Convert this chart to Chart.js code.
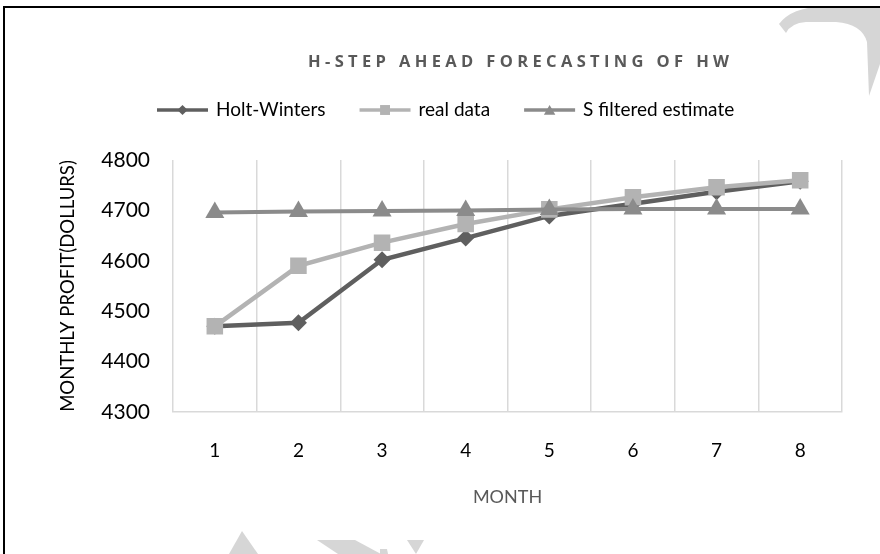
<!DOCTYPE html>
<html>
<head>
<meta charset="utf-8">
<script src="https://cdn.jsdelivr.net/npm/chart.js@4.4.1/dist/chart.umd.min.js"></script>
<style>
  html, body { margin: 0; padding: 0; background: #fff; overflow: hidden; }
  #wrap { position: relative; width: 880px; height: 554px; }
  #deco { position: absolute; left: 0; top: 0; }
  #chart { position: absolute; left: 0; top: 0; }
</style>
</head>
<body>
<div id="wrap">
  <svg id="deco" width="880" height="554" viewBox="0 0 880 554">
    <!-- faint background lettering -->
    <g fill="#d6d6d6">
      <path d="M 779 24 Q 792 7 822 7 L 880 7 L 880 64 L 869 96 L 867 42 Q 862 24 836 22 L 806 22 Q 791 23 786 33 Z"/>
      <path d="M 229 554 L 242 531 L 258 554 Z"/>
      <path d="M 317 540 L 355 540 L 381 554 L 338 554 Z"/>
      <path d="M 380 549 L 387 549 L 388 554 L 380 554 Z"/>
      <path d="M 407 540 L 424 540 L 416 554 Z"/>
    </g>
    <!-- frame -->
    <path d="M 4 554 L 4 7 L 880 7" fill="none" stroke="#000" stroke-width="2"/>
  </svg>
  <canvas id="chart" width="880" height="554"></canvas>
</div>
<script>
// Monthly profit forecasts, months 1-8
const months = ['1', '2', '3', '4', '5', '6', '7', '8'];
const holtWinters = [4470, 4477, 4602, 4645, 4689, 4713, 4737, 4758];
const realData = [4470, 4590, 4636, 4673, 4702, 4726, 4746, 4760];
const sFiltered = [4696, 4698, 4699, 4700, 4702, 4703, 4703, 4703];
const yMin = 4300, yMax = 4800, yStep = 100;

const seriesNames = ['Holt-Winters', 'real data', 'S filtered estimate'];
const seriesColors = ['#5f5f5f', '#b3b3b3', '#8b8b8b'];
const chartTitle = 'H-STEP AHEAD FORECASTING OF HW';

const FONT = 'Lato, "Open Sans", "DejaVu Sans", sans-serif';
const TITLE_FONT = 'bold 16.5px "Open Sans", Lato, sans-serif';
const TITLE_WIDTH = 421;

function markerPath(ctx, style, x, y, r) {
  ctx.beginPath();
  if (style === 'rectRot') {
    ctx.moveTo(x - r, y); ctx.lineTo(x, y - r); ctx.lineTo(x + r, y); ctx.lineTo(x, y + r);
  } else if (style === 'rect') {
    const s = r * Math.SQRT1_2;
    ctx.rect(x - s, y - s, 2 * s, 2 * s);
  } else {
    for (let i = 0; i < 3; i++) {
      const a = i * 2 * Math.PI / 3;
      const px = x + Math.sin(a) * r, py = y - Math.cos(a) * r;
      if (i === 0) ctx.moveTo(px, py); else ctx.lineTo(px, py);
    }
  }
  ctx.closePath();
}

// Title and line+marker legend drawn above the plot
const headerPlugin = {
  id: 'header',
  afterDraw(chart) {
    const ctx = chart.ctx;
    const area = chart.chartArea;
    ctx.save();
    ctx.font = TITLE_FONT;
    ctx.fillStyle = '#595959';
    ctx.textBaseline = 'middle';
    ctx.textAlign = 'left';
    if ('letterSpacing' in ctx) {
      const plain = ctx.measureText(chartTitle).width;
      const gap = Math.max(0, (TITLE_WIDTH - plain) / (chartTitle.length - 1));
      ctx.letterSpacing = gap.toFixed(2) + 'px';
    }
    ctx.fillText(chartTitle, area.left + 135, 62);
    if ('letterSpacing' in ctx) ctx.letterSpacing = '0px';

    ctx.font = '19px ' + FONT;
    let x = area.left - 16;
    const y = 110;
    chart.data.datasets.forEach((ds) => {
      ctx.strokeStyle = ds.borderColor;
      ctx.lineWidth = 3.5;
      ctx.beginPath();
      ctx.moveTo(x, y); ctx.lineTo(x + 51, y);
      ctx.stroke();
      ctx.fillStyle = ds.borderColor;
      markerPath(ctx, ds.pointStyle, x + 25.5, y + (ds.pointStyle === 'triangle' ? 1.5 : 0), ds.pointRadius * 0.6);
      ctx.fill();
      ctx.fillStyle = '#000';
      ctx.fillText(ds.label, x + 59, y);
      x += 59 + ctx.measureText(ds.label).width + 34;
    });
    ctx.restore();
  }
};

function build() {
  Chart.defaults.font.family = FONT;
  new Chart(document.getElementById('chart'), {
    type: 'line',
    data: {
      labels: months,
      datasets: [
        { label: seriesNames[0], data: holtWinters, borderColor: seriesColors[0], backgroundColor: seriesColors[0],
          borderWidth: 4.5, pointStyle: 'rectRot', pointRadius: 8.5, pointBorderWidth: 0, order: 3 },
        { label: seriesNames[1], data: realData, borderColor: seriesColors[1], backgroundColor: seriesColors[1],
          borderWidth: 4.5, pointStyle: 'rect', pointRadius: 11.7, pointBorderWidth: 0, order: 2 },
        { label: seriesNames[2], data: sFiltered, borderColor: seriesColors[2], backgroundColor: seriesColors[2],
          borderWidth: 4, pointStyle: 'triangle', pointRadius: 11, pointBorderWidth: 0, order: 1 }
      ]
    },
    options: {
      responsive: false,
      animation: false,
      devicePixelRatio: 1,
      layout: { padding: { left: 57, right: 38, top: 160, bottom: 0 } },
      plugins: {
        legend: { display: false },
        title: { display: false },
        tooltip: { enabled: false }
      },
      scales: {
        x: {
          type: 'category',
          offset: true,
          grid: { offset: true, color: '#d9d9d9', lineWidth: 1.5, drawTicks: false },
          border: { display: true, color: '#d9d9d9', width: 1.5 },
          ticks: { color: '#000', font: { size: 19 }, padding: 27, maxRotation: 0 },
          title: { display: true, text: 'MONTH', color: '#595959', font: { size: 18 }, padding: { top: 0, bottom: 46 } },
          afterFit: (s) => { s.height = 142; }
        },
        y: {
          min: yMin,
          max: yMax,
          grid: { display: false, drawTicks: false },
          border: { display: false },
          ticks: { stepSize: yStep, color: '#000', font: { size: 21 }, padding: 23, callback: (v) => String(v) },
          title: { display: true, text: 'MONTHLY PROFIT(DOLLURS)', color: '#000', font: { size: 18.5 }, padding: { top: 0, bottom: 0 } },
          afterFit: (s) => { s.width = 116; }
        }
      }
    },
    plugins: [headerPlugin]
  });
}

if (document.fonts && document.fonts.load) {
  Promise.all([
    document.fonts.load('19px Lato'),
    document.fonts.load(TITLE_FONT)
  ]).then(build, build);
} else {
  build();
}
</script>
</body>
</html>
